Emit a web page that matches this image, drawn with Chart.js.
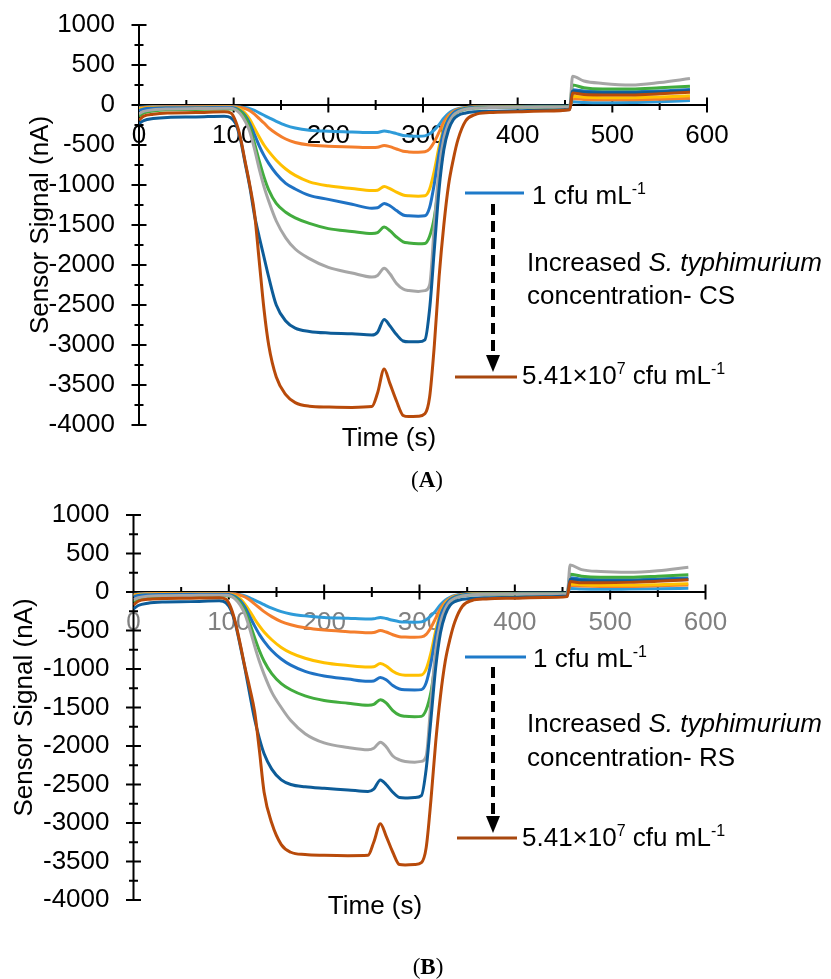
<!DOCTYPE html>
<html>
<head>
<meta charset="utf-8">
<script src="https://cdn.jsdelivr.net/npm/chart.js@4"></script>
<style>
  body { margin: 0; background: #fff; width: 831px; height: 979px; position: relative; overflow: hidden;
         font-family: "Liberation Sans", Arial, sans-serif; }
  canvas { position: absolute; left: 0; }
  .t { position: absolute; font-size: 26px; line-height: 30px; color: #000; white-space: nowrap; }
  .t sup { font-size: 16px; vertical-align: 10px; line-height: 0; }
  .mid { transform: translateX(-50%); }
  .cap { position: absolute; font-family: "Liberation Serif", serif; font-size: 23px; line-height: 26px;
         transform: translateX(-50%); }
</style>
</head>
<body>
<canvas id="chartA" width="831" height="480" style="top:-15px"></canvas>
<canvas id="chartB" width="831" height="465" style="top:475px"></canvas>

<!-- panel A notes -->
<div class="t" style="left:532px;top:180px">1 cfu mL<sup>-1</sup></div>
<div class="t" style="left:527px;top:247px">Increased <i>S. typhimurium</i></div>
<div class="t" style="left:527px;top:280px">concentration- CS</div>
<div class="t" style="left:522px;top:360px">5.41×10<sup>7</sup> cfu mL<sup>-1</sup></div>
<div class="t mid" style="left:389px;top:422px">Time (s)</div>
<div class="cap" style="left:427px;top:467px">(<b>A</b>)</div>

<!-- panel B notes -->
<div class="t" style="left:533px;top:643px">1 cfu mL<sup>-1</sup></div>
<div class="t" style="left:527px;top:708px">Increased <i>S. typhimurium</i></div>
<div class="t" style="left:527px;top:742px">concentration- RS</div>
<div class="t" style="left:522px;top:822px">5.41×10<sup>7</sup> cfu mL<sup>-1</sup></div>
<div class="t mid" style="left:375px;top:890px">Time (s)</div>
<div class="cap" style="left:428px;top:954px">(<b>B</b>)</div>

<script>
// tiempo (s), comun a las dos graficas
const times = [0, 5, 15, 30, 60, 90, 97, 102, 107, 112, 117, 122, 127, 132, 137, 145, 155, 165, 180, 200, 225,
  246, 252, 259, 265, 272, 279, 285, 295, 302, 307, 312, 317, 322, 327, 332, 337, 345, 355, 370, 400, 430, 455,
  458, 470, 490, 520, 550, 582];

const seriesLabels = ['1 cfu mL-1', 'Conc. 2', 'Conc. 3', 'Conc. 4', 'Conc. 5', 'Conc. 6', 'Conc. 7', '5.41×10^7 cfu mL-1'];
const seriesColors = ['#2E9BD9', '#F47E2C', '#FFC000', '#1F72C4', '#42AC3E', '#A6A6A6', '#0D5C98', '#B84A0A'];

const xTicks = [0, 100, 200, 300, 400, 500, 600];
const yTicks = [-4000, -3500, -3000, -2500, -2000, -1500, -1000, -500, 0, 500, 1000];

// (A) CS
const csLightBlue = [-30,-25,-20,-20,-20,-20, -20,-22,-26,-32,-45,-68,-98,-128,-158, -205,-255,-288,-315,-328,-337,
  -345,-343,-325,-336,-358,-380,-386,-390, -386,-360,-310,-245,-165,-105,-68,-45, -30,-24,-20,-18,-17,-16, 40,32,28,30,40,55];
const csOrange = [-40,-30,-25,-22,-22,-22, -22,-25,-32,-45,-70,-115,-170,-225,-285, -355,-425,-468,-500,-515,-524,
  -532,-529,-505,-520,-550,-578,-586,-590, -585,-550,-460,-340,-215,-130,-80,-52, -33,-25,-21,-19,-18,-17, 80,70,65,65,72,85];
const csGold = [-50,-40,-35,-30,-30,-28, -28,-35,-55,-100,-180,-290,-400,-500,-580, -690,-800,-880,-960,-1010,-1045,
  -1070,-1065,-1020,-1045,-1090,-1125,-1135,-1140, -1135,-1050,-820,-520,-290,-160,-95,-60, -38,-28,-24,-22,-21,-20, 110,98,92,92,100,115];
const csBlue = [-70,-50,-40,-35,-33,-32, -32,-40,-70,-130,-230,-370,-510,-630,-730, -860,-980,-1050,-1130,-1180,-1240,
  -1290,-1285,-1230,-1260,-1320,-1375,-1385,-1390, -1385,-1280,-980,-600,-320,-175,-100,-65, -40,-30,-26,-24,-22,-21, 190,175,165,165,175,195];
const csGreen = [-140,-100,-75,-60,-55,-50, -50,-55,-80,-150,-280,-480,-700,-900,-1060, -1230,-1340,-1410,-1480,-1545,-1580,
  -1605,-1595,-1525,-1570,-1650,-1710,-1725,-1735, -1730,-1640,-1400,-950,-500,-250,-135,-85, -52,-38,-30,-27,-26,-25, 250,215,200,200,215,235];
const csGray = [-110,-80,-60,-50,-45,-40, -40,-60,-110,-200,-330,-550,-800,-1020,-1200, -1450,-1660,-1800,-1920,-2030,-2100,
  -2150,-2130,-2040,-2110,-2230,-2300,-2320,-2330, -2320,-2250,-1500,-800,-420,-230,-130,-85, -52,-38,-30,-27,-26,-25, 360,300,270,250,280,330];
const csDarkBlue = [-230,-195,-170,-155,-150,-140, -160,-230,-420,-720,-1020,-1380,-1650,-1900,-2150, -2500,-2700,-2790,-2830,-2850,-2860,
  -2875,-2840,-2680,-2760,-2870,-2950,-2960,-2960, -2935,-2550,-1800,-1050,-560,-310,-185,-130, -100,-85,-78,-72,-65,-55, 175,160,152,152,162,178];
const csBrown = [-190,-140,-115,-100,-95,-85, -100,-200,-400,-700,-1000,-1350,-1950,-2550,-3000, -3400,-3620,-3720,-3765,-3775,-3780,
  -3770,-3600,-3300,-3480,-3700,-3880,-3895,-3890, -3860,-3650,-3000,-2150,-1500,-1000,-680,-430, -200,-120,-95,-85,-75,-60, 150,130,125,125,140,160];

// (B) RS
const rsLightBlue = [-30,-25,-20,-20,-20,-20, -20,-22,-27,-35,-50,-75,-105,-135,-165, -210,-255,-285,-310,-330,-340,
  -350,-347,-330,-345,-368,-385,-390,-392, -388,-360,-310,-245,-165,-105,-68,-45, -30,-24,-20,-18,-17,-16, 45,38,35,38,42,48];
const rsOrange = [-35,-28,-22,-20,-20,-20, -20,-23,-30,-42,-65,-105,-155,-205,-255, -320,-385,-425,-465,-495,-515,
  -530,-526,-500,-520,-555,-580,-585,-588, -583,-550,-460,-340,-215,-130,-80,-52, -33,-25,-21,-19,-18,-17, 88,78,72,72,80,92];
const rsGold = [-45,-35,-30,-27,-26,-25, -25,-32,-50,-90,-160,-250,-350,-440,-520, -620,-720,-790,-860,-920,-955,
  -975,-970,-930,-960,-1030,-1070,-1080,-1082, -1078,-1000,-790,-500,-280,-155,-92,-58, -37,-27,-23,-21,-20,-19, 105,95,88,88,95,108];
const rsBlue = [-60,-45,-36,-32,-30,-30, -30,-38,-62,-115,-200,-320,-440,-550,-640, -760,-870,-950,-1030,-1090,-1130,
  -1160,-1155,-1110,-1140,-1215,-1260,-1270,-1272, -1268,-1180,-920,-570,-305,-170,-98,-62, -40,-30,-26,-24,-22,-21, 185,168,158,158,168,182];
const rsGreen = [-130,-95,-70,-55,-50,-48, -48,-55,-80,-140,-250,-410,-590,-760,-900, -1060,-1190,-1270,-1350,-1410,-1445,
  -1470,-1460,-1400,-1440,-1540,-1600,-1615,-1620, -1615,-1530,-1300,-880,-470,-240,-130,-82, -50,-37,-30,-27,-26,-25, 230,205,192,192,205,225];
const rsGray = [-100,-75,-55,-48,-45,-42, -42,-55,-95,-170,-290,-480,-700,-900,-1070, -1300,-1500,-1670,-1840,-1960,-2020,
  -2050,-2030,-1950,-2010,-2130,-2180,-2200,-2210, -2200,-2130,-1430,-760,-400,-220,-125,-82, -50,-37,-30,-27,-26,-25, 350,290,265,255,275,320];
const rsDarkBlue = [-220,-175,-145,-130,-125,-115, -140,-230,-420,-700,-1000,-1330,-1650,-1900,-2100, -2300,-2440,-2500,-2530,-2550,-2570,
  -2590,-2560,-2440,-2500,-2600,-2670,-2675,-2670, -2645,-2300,-1650,-980,-530,-295,-175,-125, -95,-82,-75,-70,-62,-52, 165,150,143,143,152,162];
const rsBrown = [-170,-120,-95,-85,-80,-75, -95,-200,-400,-680,-980,-1250,-1550,-2050,-2600, -3000,-3280,-3380,-3410,-3420,-3425,
  -3420,-3250,-3010,-3170,-3380,-3540,-3545,-3540, -3515,-3320,-2700,-1950,-1350,-900,-610,-390, -185,-110,-90,-80,-72,-60, 135,120,120,125,140,160];

const font = { family: '"Liberation Sans", Arial, sans-serif', size: 26 };

// ejes que se cruzan en el origen, con marcas a los dos lados
const crossAxes = {
  id: 'crossAxes',
  beforeDatasetsDraw(chart) {
    const { ctx, scales: { x, y } } = chart;
    const x0 = x.getPixelForValue(0), y0 = y.getPixelForValue(0);
    ctx.save();
    ctx.strokeStyle = '#000';
    ctx.lineWidth = 2;
    ctx.beginPath();
    ctx.moveTo(x0, y.getPixelForValue(yTicks[yTicks.length - 1]));
    ctx.lineTo(x0, y.getPixelForValue(yTicks[0]));
    ctx.moveTo(x.getPixelForValue(xTicks[0]), y0);
    ctx.lineTo(x.getPixelForValue(xTicks[xTicks.length - 1]), y0);
    for (let v = yTicks[0]; v <= yTicks[yTicks.length - 1]; v += 250) {
      const p = y.getPixelForValue(v);
      const h = v % 500 === 0 ? 7.5 : 4.5;
      ctx.moveTo(x0 - h, p); ctx.lineTo(x0 + h, p);
    }
    for (let t = xTicks[0]; t <= xTicks[xTicks.length - 1]; t += 50) {
      const p = x.getPixelForValue(t);
      const h = t % 100 === 0 ? 7.5 : 5;
      ctx.moveTo(p, y0 - h); ctx.lineTo(p, y0 + h);
    }
    ctx.stroke();
    ctx.restore();
  }
};

// flecha discontinua y las dos lineas de la leyenda
const notes = {
  id: 'notes',
  afterDraw(chart, args, o) {
    const ctx = chart.ctx;
    ctx.save();
    ctx.lineWidth = 3;
    ctx.strokeStyle = '#1E7AC9';
    ctx.beginPath(); ctx.moveTo(o.top[0], o.top[2]); ctx.lineTo(o.top[1], o.top[2]); ctx.stroke();
    ctx.strokeStyle = '#A8480F';
    ctx.beginPath(); ctx.moveTo(o.bottom[0], o.bottom[2]); ctx.lineTo(o.bottom[1], o.bottom[2]); ctx.stroke();
    ctx.strokeStyle = '#000';
    ctx.lineWidth = 4;
    ctx.setLineDash([11, 6]);
    ctx.beginPath(); ctx.moveTo(o.arrow[0], o.arrow[1]); ctx.lineTo(o.arrow[0], o.arrow[2] - 15); ctx.stroke();
    ctx.setLineDash([]);
    ctx.fillStyle = '#000';
    ctx.beginPath();
    ctx.moveTo(o.arrow[0] - 7, o.arrow[2] - 17);
    ctx.lineTo(o.arrow[0] + 7, o.arrow[2] - 17);
    ctx.lineTo(o.arrow[0], o.arrow[2]);
    ctx.closePath(); ctx.fill();
    ctx.restore();
  }
};

function makeChart(id, series, opt) {
  return new Chart(document.getElementById(id), {
    type: 'line',
    data: {
      datasets: series.map((vals, i) => ({
        label: seriesLabels[i],
        data: times.map((t, k) => ({ x: t, y: vals[k] })),
        borderColor: seriesColors[i],
        borderWidth: 3,
        pointRadius: 0,
        cubicInterpolationMode: 'monotone',
        order: series.length - i
      }))
    },
    options: {
      responsive: false,
      animation: false,
      layout: { padding: opt.padding },
      plugins: { legend: { display: false }, tooltip: { enabled: false }, notes: opt.notes },
      scales: {
        x: {
          type: 'linear', position: { y: 0 }, min: xTicks[0], max: xTicks[xTicks.length - 1],
          grid: { display: false, drawTicks: false }, border: { display: false },
          ticks: { stepSize: 100, padding: 15, color: opt.xTickColor, font, maxRotation: 0, callback: v => String(v) },
          afterFit: s => { s.height = 0; }
        },
        y: {
          min: yTicks[0], max: yTicks[yTicks.length - 1],
          grid: { display: false, drawTicks: false }, border: { display: false },
          ticks: { stepSize: 500, padding: 24, color: '#000', font, callback: v => String(v) },
          title: { display: true, text: 'Sensor Signal (nA)', color: '#000', font, padding: { top: opt.titlePad, bottom: 0 } },
          afterFit: s => { s.width = opt.axisLeft; }
        }
      }
    },
    plugins: [crossAxes, notes]
  });
}

// el lienzo A empieza en y=-15 y el B en y=475 (coordenadas de pagina)
makeChart('chartA',
  [csLightBlue, csOrange, csGold, csBlue, csGreen, csGray, csDarkBlue, csBrown],
  { padding: { left: 0, top: 40, right: 124, bottom: 40 }, axisLeft: 139, titlePad: 25, xTickColor: '#000',
    notes: { top: [465, 524, 208], bottom: [455, 517, 392], arrow: [493, 219, 387] } });

makeChart('chartB',
  [rsLightBlue, rsOrange, rsGold, rsBlue, rsGreen, rsGray, rsDarkBlue, rsBrown],
  { padding: { left: 0, top: 40, right: 125.5, bottom: 40 }, axisLeft: 133.5, titlePad: 9, xTickColor: '#808080',
    notes: { top: [465, 526, 182], bottom: [457, 517, 363], arrow: [493, 192, 358] } });
</script>
</body>
</html>
